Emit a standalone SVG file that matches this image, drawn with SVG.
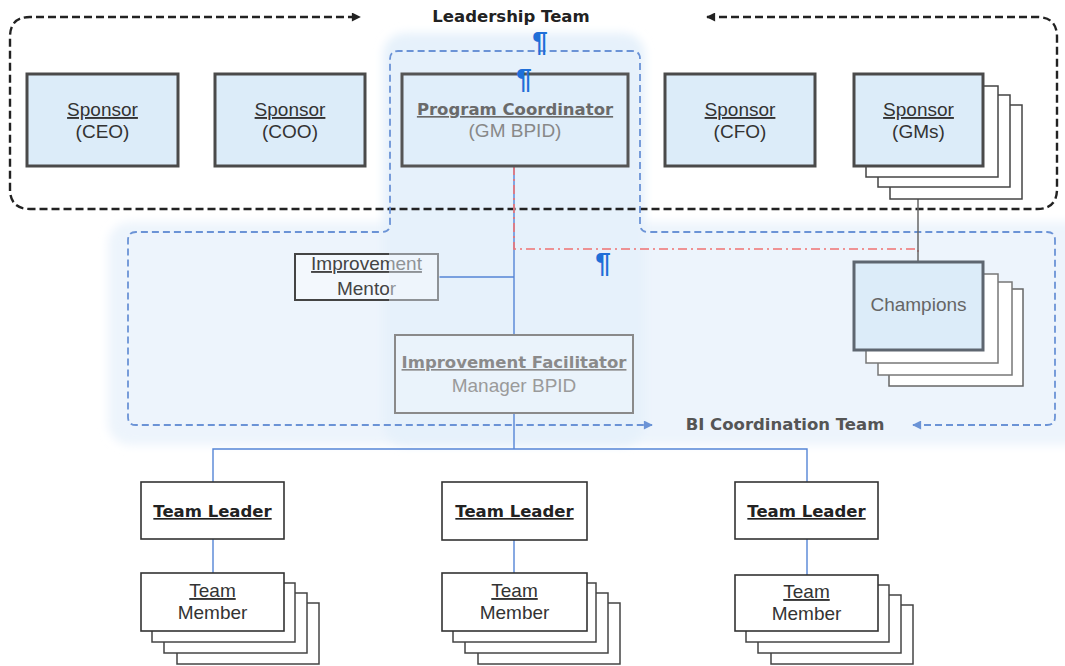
<svg xmlns="http://www.w3.org/2000/svg" width="1065" height="666" viewBox="0 0 1065 666">
<defs>
<style>
.reg{font-family:"Liberation Sans",Arial,sans-serif;font-size:19px;text-anchor:middle;fill:#333}
.bold{font-family:"DejaVu Sans",Verdana,sans-serif;font-weight:bold;font-size:16.5px;text-anchor:middle;fill:#222}
.u{text-decoration:underline}
.spons{fill:#dcecf9;stroke:#4a4a4a;stroke-width:3}
.copy{fill:#fff;stroke:#444;stroke-width:1.5}
.plain{fill:#fff;stroke:#333;stroke-width:1.6}
.blue{fill:none;stroke:#5585d6;stroke-width:1.4}
.pil{font-family:"Liberation Sans",Arial,sans-serif;font-size:28px;font-weight:bold;fill:#1f6fd8;text-anchor:middle}
</style>
<filter id="soft" x="-10%" y="-10%" width="120%" height="120%"><feGaussianBlur stdDeviation="5"/></filter>
<marker id="ablk" viewBox="0 0 10 10" refX="9" refY="5" markerWidth="11" markerHeight="9" markerUnits="userSpaceOnUse" orient="auto-start-reverse"><path d="M0,0 L10,5 L0,10 z" fill="#222"/></marker>
<marker id="ablu" viewBox="0 0 10 10" refX="9" refY="5" markerWidth="12" markerHeight="9" markerUnits="userSpaceOnUse" orient="auto-start-reverse"><path d="M0,0 L10,5 L0,10 z" fill="#6b93d6"/></marker>
</defs>
<rect width="1065" height="666" fill="#fff"/>
<g id="backgrounds">
<rect x="108" y="222" width="990" height="223" rx="22" fill="#edf4fc" filter="url(#soft)"/>
<rect x="383" y="33" width="262" height="412" rx="22" fill="#e6f1fb" filter="url(#soft)"/>
</g>
<g id="containers">
<path d="M707,17 H1037 Q1057,17 1057,37 V189 Q1057,209 1037,209 H30 Q10,209 10,189 V37 Q10,17 30,17 H360" fill="none" stroke="#222" stroke-width="2.4" stroke-dasharray="8,4" marker-start="url(#ablk)" marker-end="url(#ablk)"/>
<text class="bold" x="511" y="22">Leadership Team</text>
<path d="M913,425 H1047 Q1055,425 1055,417 V240 Q1055,232 1047,232 H648 Q640,232 640,224 V59 Q640,51 632,51 H398 Q390,51 390,59 V224 Q390,232 382,232 H136 Q128,232 128,240 V417 Q128,425 136,425 H652" fill="none" stroke="#6b93d6" stroke-width="1.8" stroke-dasharray="7,4" marker-start="url(#ablu)" marker-end="url(#ablu)"/>
<text class="bold" x="785" y="430" style="fill:#555">BI Coordination Team</text>
</g>
<g id="connectors">
<path class="blue" d="M514,166 V335 M438,277 H514 M514,413 V449 M213,482 V449 H807 V482 M213,539 V573 M514,540 V573 M807,539 V575"/>
<path d="M514,166 V249 H918 V253" fill="none" stroke="#f07272" stroke-width="1.6" stroke-dasharray="9,4,2,4"/>
<path d="M918,166 V262" fill="none" stroke="#666" stroke-width="1.5"/>
</g>
<g id="sponsor-ceo">
<rect class="spons" x="27" y="74" width="151" height="92"/>
<text class="reg u" x="102.5" y="116">Sponsor</text>
<text class="reg" x="102.5" y="138">(CEO)</text>
</g>
<g id="sponsor-coo">
<rect class="spons" x="215" y="74" width="150" height="92"/>
<text class="reg u" x="290" y="116">Sponsor</text>
<text class="reg" x="290" y="138">(COO)</text>
</g>
<g id="program-coordinator">
<rect x="402" y="74" width="226" height="92" fill="#e0eefa" stroke="#555" stroke-width="3"/>
<text class="bold u" x="515" y="115" style="fill:#6a6a6a">Program Coordinator</text>
<text class="reg" x="515" y="137" style="fill:#888">(GM BPID)</text>
</g>
<g id="sponsor-cfo">
<rect class="spons" x="665" y="74" width="150" height="92"/>
<text class="reg u" x="740" y="116">Sponsor</text>
<text class="reg" x="740" y="138">(CFO)</text>
</g>
<g id="sponsor-gms">
<rect class="copy" x="890" y="105" width="132" height="94"/>
<rect class="copy" x="878" y="95" width="132" height="92"/>
<rect class="copy" x="866" y="86" width="132" height="91"/>
<rect class="spons" x="854" y="74" width="129" height="92"/>
<text class="reg u" x="918.5" y="116">Sponsor</text>
<text class="reg" x="918.5" y="138">(GMs)</text>
</g>
<g id="improvement-mentor">
<rect x="295" y="254" width="143" height="46" fill="#f3f8fd" stroke="#444" stroke-width="2"/>
<text class="reg u" x="366.5" y="270" style="fill:#444">Improvement</text>
<text class="reg" x="366.5" y="295" style="fill:#444">Mentor</text>
<rect x="389" y="252" width="51" height="50" fill="#e8f2fb" opacity="0.45"/>
</g>
<g id="improvement-facilitator">
<rect x="395" y="335" width="238" height="78" fill="#eaf3fb" stroke="#8a8a8a" stroke-width="2"/>
<text class="bold u" x="514" y="368" style="fill:#8a8a8a">Improvement Facilitator</text>
<text class="reg" x="514" y="392" style="fill:#9a9a9a">Manager BPID</text>
</g>
<g id="champions">
<rect class="copy" x="889" y="289" width="134" height="97" style="stroke:#666"/>
<rect class="copy" x="878" y="282" width="134" height="93" style="stroke:#777"/>
<rect class="copy" x="866" y="274" width="132" height="89" style="stroke:#777"/>
<rect x="854" y="262" width="129" height="88" fill="#dcecf9" stroke="#5e6670" stroke-width="3"/>
<text class="reg" x="918.5" y="311" style="fill:#666">Champions</text>
</g>
<g id="team-leader-1">
<rect class="plain" x="141" y="482" width="143" height="57"/>
<text class="bold u" x="212.5" y="517">Team Leader</text>
</g>
<g id="team-leader-2">
<rect class="plain" x="442" y="482" width="145" height="58"/>
<text class="bold u" x="514.5" y="517">Team Leader</text>
</g>
<g id="team-leader-3">
<rect class="plain" x="735" y="482" width="143" height="57"/>
<text class="bold u" x="806.5" y="517">Team Leader</text>
</g>
<g id="team-member-1">
<rect class="copy" x="177" y="603" width="142" height="61"/>
<rect class="copy" x="164" y="593" width="143" height="60"/>
<rect class="copy" x="152" y="583" width="143" height="59"/>
<rect class="plain" x="141" y="573" width="143" height="58"/>
<text class="reg u" x="212.5" y="597">Team</text>
<text class="reg" x="212.5" y="619">Member</text>
</g>
<g id="team-member-2">
<rect class="copy" x="478" y="603" width="142" height="61"/>
<rect class="copy" x="465" y="593" width="143" height="60"/>
<rect class="copy" x="453" y="583" width="143" height="59"/>
<rect class="plain" x="442" y="573" width="145" height="58"/>
<text class="reg u" x="514.5" y="597">Team</text>
<text class="reg" x="514.5" y="619">Member</text>
</g>
<g id="team-member-3">
<rect class="copy" x="771" y="605" width="142" height="59"/>
<rect class="copy" x="758" y="595" width="143" height="58"/>
<rect class="copy" x="746" y="585" width="143" height="57"/>
<rect class="plain" x="735" y="575" width="143" height="56"/>
<text class="reg u" x="806.5" y="598">Team</text>
<text class="reg" x="806.5" y="620">Member</text>
</g>
<g id="marks">
<text class="pil" x="540" y="51">¶</text>
<text class="pil" x="524" y="88">¶</text>
<text class="pil" x="603" y="272">¶</text>
</g>
</svg>
